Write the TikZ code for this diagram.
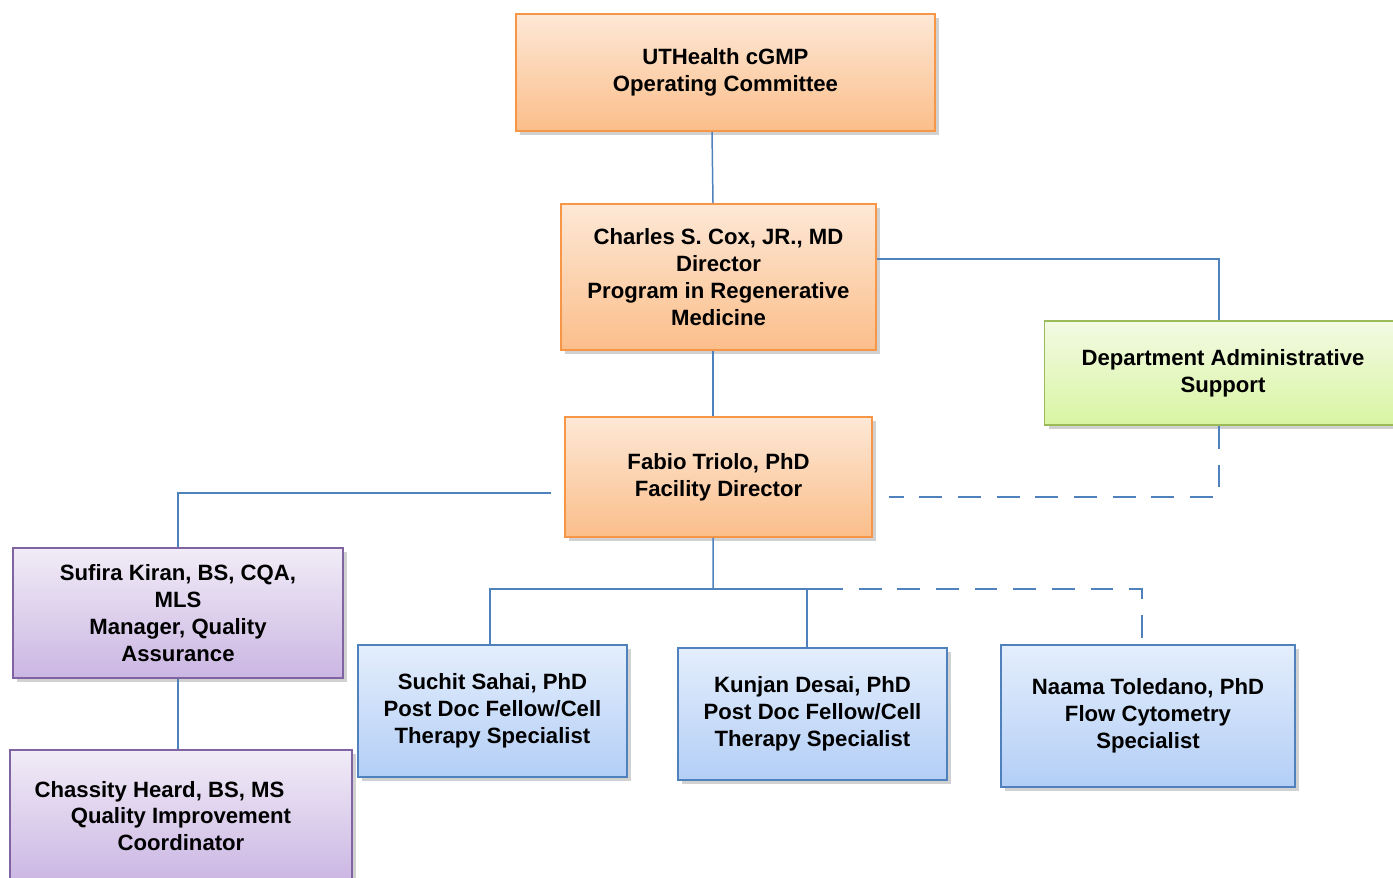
\documentclass[tikz,border=0pt]{standalone}
\usepackage{fontspec}
\setmainfont{Liberation Sans}
\usepackage{tikz}
\usetikzlibrary{
	arrows.meta,
	positioning,
	shadows,
	calc
}

\definecolor{orTop}{HTML}{FDE8D6}
\definecolor{orBot}{HTML}{FBBE8A}
\definecolor{orLine}{HTML}{F79646}
\definecolor{grTop}{HTML}{F3FAE4}
\definecolor{grBot}{HTML}{D8F5A2}
\definecolor{grLine}{HTML}{9BBB59}
\definecolor{puTop}{HTML}{F1ECF7}
\definecolor{puBot}{HTML}{CBB6E3}
\definecolor{puLine}{HTML}{8064A2}
\definecolor{blTop}{HTML}{E4EEFC}
\definecolor{blBot}{HTML}{B3CEF6}
\definecolor{blLine}{HTML}{4F81BD}

\begin{document}
\begin{tikzpicture}[
			x=0.02cm, y=-0.02cm,
			font=\fontsize{12.6}{15.3}\selectfont\bfseries,
			caixa/.style={line width=1pt, align=center, inner sep=2pt,
				drop shadow={shadow xshift=2.5pt, shadow yshift=-2.5pt, opacity=0.3, fill=black!60}},
			laranja/.style={caixa, draw=orLine, top color=orTop, bottom color=orBot},
			verde/.style={caixa, draw=grLine, top color=grTop, bottom color=grBot},
			roxo/.style={caixa, draw=puLine, top color=puTop, bottom color=puBot},
			azul/.style={caixa, draw=blLine, top color=blTop, bottom color=blBot},
			link/.style={draw=blLine, line width=0.85pt},
			tracejado/.style={link, dash pattern=on 13pt off 9pt}
		]

		\clip (0,0) rectangle (1393,878);
		\useasboundingbox (0,0) rectangle (1393,878);

		\node[laranja, minimum width=8.38cm, minimum height=2.34cm] (comite) at (725.5,72.5) {UTHealth cGMP\\Operating Committee};
		\node[laranja, minimum width=6.3cm, minimum height=2.92cm] (cox) at (718.5,277) {Charles S. Cox, JR., MD\\Director\\Program in Regenerative\\Medicine};
		\node[laranja, minimum width=6.14cm, minimum height=2.4cm] (fabio) at (718.5,477) {Fabio Triolo, PhD\\Facility Director};
		\node[verde, minimum width=7.14cm, minimum height=2.08cm] (admin) at (1223,373) {Department Administrative\\Support};
		\node[roxo, minimum width=6.6cm, minimum height=2.6cm] (sufira) at (178,613) {Sufira Kiran, BS, CQA,\\MLS\\Manager, Quality\\Assurance};
		\node[roxo, minimum width=6.84cm, minimum height=2.64cm] (chassity) at (181,816) {Chassity Heard, BS, MS\hspace*{0.86cm}\\Quality Improvement\\Coordinator};
		\node[azul, minimum width=5.38cm, minimum height=2.64cm] (suchit) at (492.5,711) {Suchit Sahai, PhD\\Post Doc Fellow/Cell\\Therapy Specialist};
		\node[azul, minimum width=5.38cm, minimum height=2.64cm] (kunjan) at (812.5,714) {Kunjan Desai, PhD\\Post Doc Fellow/Cell\\Therapy Specialist};
		\node[azul, minimum width=5.88cm, minimum height=2.84cm] (naama) at (1148,716) {Naama Toledano, PhD\\Flow Cytometry\\Specialist};

		\coordinate (barra) at (713,589);
		\coordinate (barraDir) at (820,589);

		% linhas cheias
		\draw[link] ([xshift=-0.27cm]comite.south) -- ([xshift=-0.11cm]cox.north);
		\draw[link] ([xshift=-0.11cm]cox.south) -- ([xshift=-0.11cm]fabio.north);
		\draw[link] ([yshift=0.36cm]cox.east) -| ([xshift=-0.08cm]admin.north);
		\draw[link] ([xshift=-0.26cm, yshift=-0.32cm]fabio.west) -| (sufira.north);
		\draw[link] (sufira.south) -- (sufira.south |- chassity.north);
		\draw[link] ([xshift=-0.11cm]fabio.south) -- (barra);
		\draw[link] ([xshift=-0.05cm]suchit.north) |- (barraDir);
		\draw[link] ([xshift=-0.11cm]kunjan.north) -- ([xshift=-0.11cm]kunjan.north |- barra);

		% linhas tracejadas
		\draw[tracejado] ([xshift=-0.08cm]admin.south) |- ([xshift=0.32cm, yshift=-0.4cm]fabio.east);
		\draw[tracejado] (barraDir) -| ([xshift=-0.12cm]naama.north);
	\end{tikzpicture}
\end{document}
